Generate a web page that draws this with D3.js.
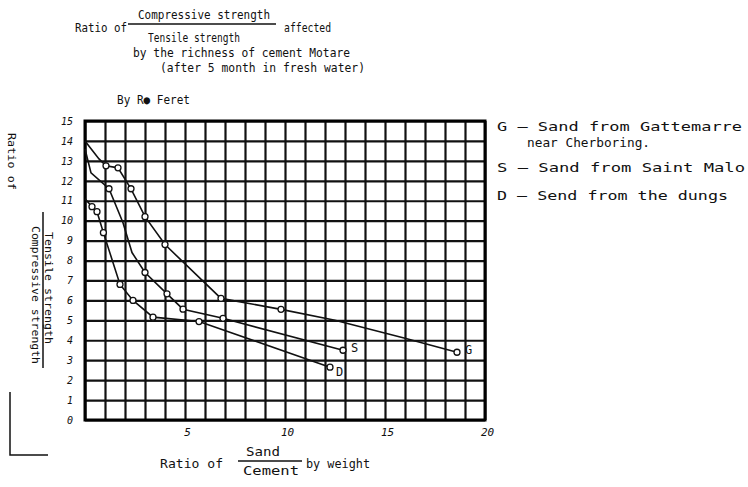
<!DOCTYPE html>
<html>
<head>
<meta charset="utf-8">
<script src="https://cdn.jsdelivr.net/npm/d3@7/dist/d3.min.js"></script>
<style>
  body { margin: 0; background: #fff; }
  text { font-family: "DejaVu Sans Mono", "Liberation Mono", monospace; fill: #111; }
</style>
</head>
<body>
<div id="chart"></div>
<script>
// values (x = sand/cement, y = compressive/tensile)
const xTicks = [5, 10, 15, 20];
const yTicks = [0, 1, 2, 3, 4, 5, 6, 7, 8, 9, 10, 11, 12, 13, 14, 15];
const seriesNames = ['G', 'S', 'D'];

// [x, y, circle drawn?]
const sandG = [[0, 14.0, 0], [0.7, 13.1, 0], [1.05, 12.75, 1], [1.65, 12.65, 1], [2.3, 11.6, 1], [3.0, 10.2, 1],
  [4.0, 8.8, 1], [6.8, 6.1, 1], [9.8, 5.55, 1], [12.5, 5.0, 0], [16.0, 4.1, 0], [18.6, 3.4, 1]];
const sandS = [[0, 13.6, 0], [0.3, 12.4, 0], [1.2, 11.6, 1], [1.9, 9.9, 0], [2.35, 8.4, 0], [3.0, 7.4, 1],
  [4.1, 6.33, 1], [4.9, 5.56, 1], [6.9, 5.1, 1], [12.9, 3.5, 1]];
const sandD = [[0, 11.1, 0], [0.35, 10.7, 1], [0.6, 10.45, 1], [0.92, 9.4, 1], [1.75, 6.8, 1], [2.4, 6.0, 1],
  [3.4, 5.16, 1], [5.7, 4.94, 1], [12.25, 2.65, 1]];

const legendLines = [
  'G \u2014 Sand from Gattemarre',
  'near Cherboring.',
  'S \u2014 Sand from Saint Malo',
  'D \u2014 Send from the dungs'
];

const width = 748, height = 487;
const plot = {left: 85, right: 485, top: 121, bottom: 420};

const svg = d3.select('#chart')
  .append('svg')
  .attr('width', width)
  .attr('height', height);

const x = d3.scaleLinear().domain([0, 20]).range([plot.left, plot.right]);
const y = d3.scaleLinear().domain([0, 15]).range([plot.bottom, plot.top]);

// grid via axes
const xGrid = d3.axisBottom(x).tickValues(d3.range(0, 21)).tickSize(-(plot.bottom - plot.top)).tickFormat('');
svg.append('g')
  .attr('transform', `translate(0, ${plot.bottom})`)
  .call(xGrid)
  .call(g => g.select('.domain').remove())
  .selectAll('line').attr('stroke', '#111').attr('stroke-width', 2.2);

const yGrid = d3.axisLeft(y).tickValues(yTicks).tickSize(-(plot.right - plot.left)).tickFormat('');
svg.append('g')
  .attr('transform', `translate(${plot.left}, 0)`)
  .call(yGrid)
  .call(g => g.select('.domain').remove())
  .selectAll('line').attr('stroke', '#111').attr('stroke-width', 2.2);

svg.append('rect')
  .attr('x', plot.left).attr('y', plot.top)
  .attr('width', plot.right - plot.left).attr('height', plot.bottom - plot.top)
  .attr('fill', 'none').attr('stroke', '#000').attr('stroke-width', 3);

// tick labels
const yAxis = d3.axisLeft(y).tickValues(yTicks).tickSize(0).tickPadding(12);
svg.append('g')
  .attr('transform', `translate(${plot.left}, 0)`)
  .call(yAxis)
  .call(g => g.select('.domain').remove())
  .selectAll('text')
  .style('font-size', '10px').style('font-style', 'italic').style('font-family', '"DejaVu Sans Mono", monospace');

const xAxis = d3.axisBottom(x).tickValues(xTicks).tickSize(0).tickPadding(8);
svg.append('g')
  .attr('transform', `translate(0, ${plot.bottom})`)
  .call(xAxis)
  .call(g => g.select('.domain').remove())
  .selectAll('text')
  .attr('dx', 2)
  .style('font-size', '11px').style('font-style', 'italic').style('font-family', '"DejaVu Sans Mono", monospace');

// curves
const line = d3.line().x(d => x(d[0])).y(d => y(d[1]));
const series = [sandG, sandS, sandD];

series.forEach((pts, i) => {
  svg.append('path')
    .datum(pts)
    .attr('d', line)
    .attr('fill', 'none')
    .attr('stroke', '#111')
    .attr('stroke-width', 1.6);

  svg.selectAll('.pt' + i)
    .data(pts.filter(d => d[2]))
    .enter()
    .append('circle')
    .attr('cx', d => x(d[0]))
    .attr('cy', d => y(d[1]))
    .attr('r', 3)
    .attr('fill', '#fff')
    .attr('stroke', '#111')
    .attr('stroke-width', 1.3);

  const last = pts[pts.length - 1];
  svg.append('text')
    .attr('x', x(last[0]) + (i === 2 ? 6 : 8))
    .attr('y', y(last[1]) + (i === 2 ? 9 : 2))
    .style('font-size', '12px')
    .text(seriesNames[i]);
});

// helper for the lettering
function label(txt, tx, ty, size, len) {
  const t = svg.append('text')
    .attr('x', tx).attr('y', ty)
    .style('font-size', size + 'px')
    .text(txt);
  if (len) t.attr('textLength', len).attr('lengthAdjust', 'spacingAndGlyphs');
  return t;
}

// title
label('Ratio of', 75, 32, 12, 52);
label('Compressive strength', 138, 19, 12, 132);
svg.append('line').attr('x1', 128).attr('x2', 276).attr('y1', 24).attr('y2', 24)
  .attr('stroke', '#111').attr('stroke-width', 1.5);
label('Tensile strength', 148, 42, 12, 92);
label('affected', 284, 32, 12, 47);
label('by the richness of cement Motare', 133, 57, 12, 217);
label('(after 5 month in fresh water)', 160, 72, 12, 205);
label('By R\u25CF Feret', 117, 104, 12, 73);

// legend
label(legendLines[0], 497, 131, 12, 245);
label(legendLines[1], 527, 147, 12, 123);
label(legendLines[2], 497, 172, 12, 248);
label(legendLines[3], 497, 200, 12, 231);

// x axis title
label('Ratio of', 160, 468, 12, 63);
label('Sand', 246, 456, 12, 34);
svg.append('line').attr('x1', 238).attr('x2', 302).attr('y1', 461).attr('y2', 461)
  .attr('stroke', '#111').attr('stroke-width', 1.5);
label('Cement', 243, 475, 12, 56);
label('by weight', 306, 468, 12, 64);

// y axis title (rotated)
function vlabel(txt, tx, ty, size, len) {
  svg.append('text')
    .attr('transform', `translate(${tx}, ${ty}) rotate(90)`)
    .style('font-size', size + 'px')
    .attr('textLength', len).attr('lengthAdjust', 'spacingAndGlyphs')
    .text(txt);
}
vlabel('Ratio of', 8, 133, 11, 57);
vlabel('Compressive strength', 32, 226, 11, 138);
svg.append('line').attr('x1', 43).attr('x2', 43).attr('y1', 212).attr('y2', 368)
  .attr('stroke', '#111').attr('stroke-width', 1.5);
vlabel('Tensile strength', 45, 232, 11, 112);

// corner bracket bottom left
svg.append('path')
  .attr('d', 'M10,392 V455 H48')
  .attr('fill', 'none').attr('stroke', '#111').attr('stroke-width', 1.5);
</script>
</body>
</html>
